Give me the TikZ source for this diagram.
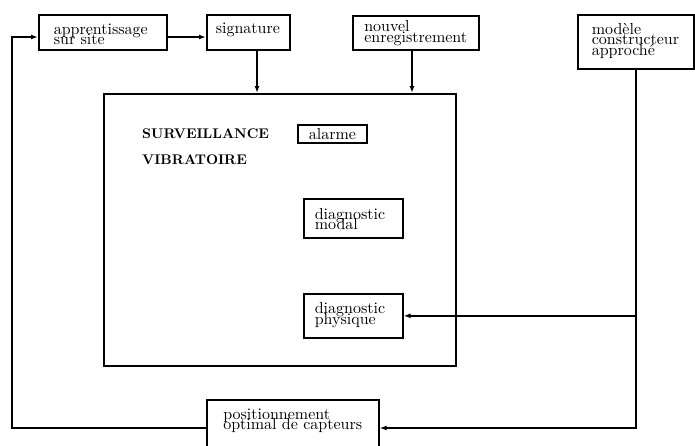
\documentclass[tikz,border=0pt]{standalone}
\usepackage{fontspec}
\setmainfont{lmroman10}[Extension=.otf, UprightFont=*-regular, BoldFont=*-bold, ItalicFont=*-italic]
\usepackage{tikz}
\usetikzlibrary{arrows.meta}
\newcommand{\blkfont}{\fontsize{16}{10.5}\selectfont\lineskiplimit=-20pt\relax}

\begin{document}
\begin{tikzpicture}[x=1pt, y=-1pt,
  blk/.style = {draw, line width=1.6pt, anchor=north west, align=left, font=\blkfont, inner ysep=0pt},
  arr/.style = {line width=1.6pt, -{Latex[length=7pt,width=5pt]}}]
\clip (0,0) rectangle (695,445);
\node[blk, inner xsep=15pt, text width=98pt, text height=19.5pt, text depth=15.5pt] (appr) at (38,14) {apprentissage\\sur site};
\node[blk, inner xsep=9pt, text width=65pt, text height=19pt, text depth=16pt] (sig) at (206,14) {signature};
\node[blk, inner xsep=11.5pt, text width=103pt, text height=16pt, text depth=18pt] (nouv) at (352,15) {nouvel\\enregistrement};
\node[blk, inner xsep=14pt, text width=88pt, text height=19.5pt, text depth=34.5pt] (mod) at (577,14) {mod\`ele\\constructeur\\approch\'e};

\node[draw, line width=1.6pt, anchor=north west, minimum width=352pt, minimum height=272pt, inner sep=0pt] (surv) at (103,93) {};
\node[anchor=base west, align=left, text width=150pt, inner sep=0pt, font=\fontsize{14}{26}\selectfont\bfseries] (title) at (142,138) {SURVEILLANCE\\VIBRATOIRE};
\node[blk, inner xsep=11pt, text width=47pt, text height=15pt, text depth=3pt] (alarm) at (297,124) {alarme};
\node[blk, inner xsep=11pt, text width=77pt, text height=20.5pt, text depth=18.5pt] (dmod) at (303,198) {diagnostic\\modal};
\node[blk, inner xsep=11pt, text width=77pt, text height=20pt, text depth=24pt] (dphy) at (303,293) {diagnostic\\physique};

\node[blk, inner xsep=16.5pt, text width=139pt, text height=19.5pt, text depth=40pt] (pos) at (206,399) {positionnement\\optimal de capteurs};

\draw[arr] (appr.east |- 0,37) -- (sig.west |- 0,37);
\draw[arr] (sig.south -| 257,0) -- (surv.north -| 257,0);
\draw[arr] (nouv.south -| 412,0) -- (surv.north -| 412,0);
\draw[arr] (mod.south) |- (pos.east |- 0,428);
\draw[arr] (mod.south |- dphy.east) -- (dphy.east);
\draw[arr] (pos.west |- 0,428) -| (12,37) -- (appr.west |- 0,37);
\end{tikzpicture}
\end{document}
